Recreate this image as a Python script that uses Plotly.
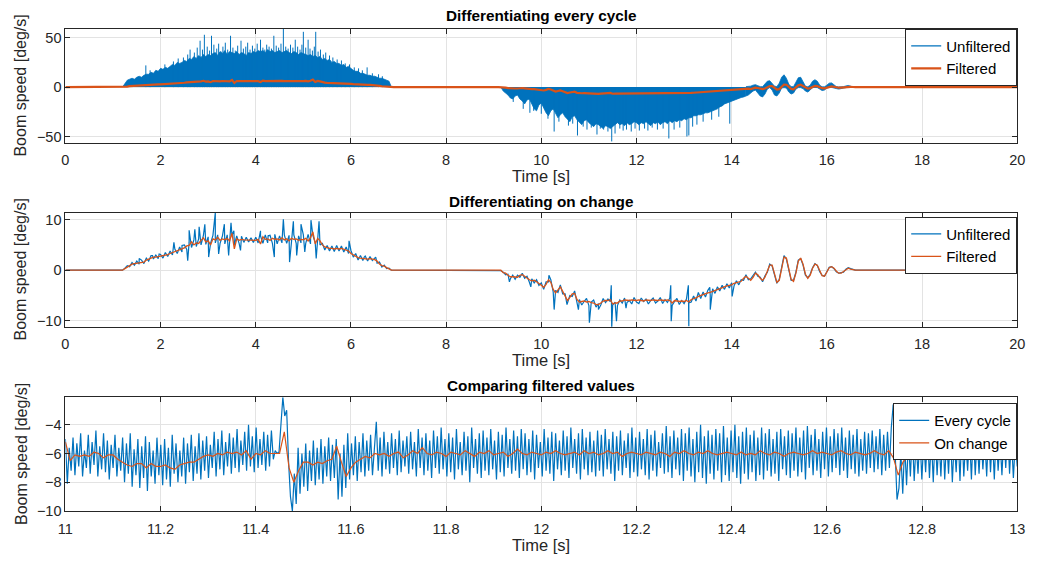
import numpy as np
import plotly.graph_objects as go

BLUE = "#0072BD"
ORANGE = "#D95319"
INK = "#262626"
GRID = "#e3e3e3"
FONT = "Liberation Sans, Arial, Helvetica, sans-serif"

# ---------------------------------------------------------------------------
# Panel 1: speed differentiated every cycle (0-20 s)
# Dense unfiltered signal, stored as its envelope plus isolated spikes.
# ---------------------------------------------------------------------------
# raise phase, 1.20 .. 6.85 s every 0.05 s: upper edge of the noise band
raise_env = [0, 4, 7, 8, 9, 8, 10, 11, 10, 12, 13, 13, 15, 14, 17, 16, 19, 18, 20, 19,
             21, 23, 22, 25, 24, 25, 27, 26, 29, 28, 31, 29, 32, 30, 33, 31, 33, 32, 34, 35,
             32, 36, 34, 37, 33, 36, 35, 34, 36, 33, 35, 34, 32, 35, 34, 36, 35, 37, 36, 37,
             35, 38, 36, 37, 35, 36, 37, 35, 36, 37, 35, 34, 36, 35, 33, 35, 34, 33, 32, 33,
             31, 32, 30, 31, 28, 29, 27, 28, 25, 26, 24, 24, 22, 23, 20, 21, 19, 17, 16, 16,
             14, 14, 13, 12, 12, 11, 11, 10, 9, 9, 8, 7, 6, 0]
raise_spike_t = [1.69, 1.78, 2.09, 2.27, 2.37, 2.48, 2.57, 2.62, 2.71, 2.77, 2.83, 2.88, 2.92,
                 2.98, 3.03, 3.07, 3.12, 3.18, 3.22, 3.27, 3.31, 3.36, 3.41, 3.47, 3.52, 3.57,
                 3.62, 3.69, 3.74, 3.79, 3.83, 3.88, 3.93, 3.98, 4.03, 4.10, 4.15, 4.19, 4.23,
                 4.28, 4.33, 4.38, 4.43, 4.48, 4.53, 4.58, 4.63, 4.68, 4.73, 4.78, 4.83, 4.88,
                 4.93, 4.97, 5.00, 5.05, 5.10, 5.14, 5.19, 5.23, 5.26, 5.31, 5.36, 5.42, 5.47,
                 5.55, 5.62, 5.71, 5.80, 5.88, 5.97, 6.07, 6.16, 6.24, 6.34, 6.45, 6.58, 6.66]
raise_spike_v = [22, 17, 23, 26, 29, 30, 33, 38, 35, 40, 47, 38, 53,
                 41, 37, 52, 43, 39, 44, 36, 41, 45, 38, 52, 40, 37,
                 42, 47, 39, 41, 45, 38, 42, 39, 44, 48, 40, 38, 43,
                 41, 39, 52, 42, 40, 44, 59, 41, 39, 43, 40, 48, 41,
                 38, 43, 56, 40, 48, 39, 37, 41, 56, 36, 38, 33, 35,
                 32, 30, 28, 27, 24, 23, 20, 19, 17, 20, 14, 13, 11]

# lowering phase, 9.15 .. 14.30 s every 0.05 s: lower edge of the noise band
lower_env = [0, -4, -6, -8, -11, -12, -9, -8, -12, -14, -17, -13, -12, -18, -22, -24, -18, -16,
             -22, -26, -29, -24, -22, -27, -31, -28, -26, -30, -33, -35, -30, -29, -33, -36,
             -38, -34, -33, -36, -38, -40, -37, -38, -40, -42, -39, -40, -42, -40, -38, -36,
             -38, -37, -39, -36, -38, -37, -35, -36, -38, -36, -37, -35, -37, -39, -36, -37,
             -35, -38, -36, -35, -37, -34, -36, -34, -35, -33, -34, -32, -33, -31, -31, -29,
             -29, -28, -28, -27, -26, -26, -25, -24, -23, -22, -20, -19, -17, -16, -15, -14,
             -13, -12, -11.5, -10.5, -10, -9]
lower_spike_t = [9.41, 9.62, 9.76, 9.84, 10.00, 10.14, 10.27, 10.37, 10.57, 10.66, 10.76, 10.88,
                 10.96, 11.05, 11.17, 11.24, 11.31, 11.40, 11.48, 11.55, 11.65, 11.72, 11.79,
                 11.89, 11.97, 12.06, 12.17, 12.24, 12.33, 12.44, 12.56, 12.68, 12.79, 12.91,
                 13.06, 13.10, 13.18, 13.27, 13.40, 13.58, 13.73, 13.96]
lower_spike_v = [-15, -22, -26, -24, -27, -32, -45, -35, -39, -37, -49, -40,
                 -43, -41, -48, -42, -43, -45, -55, -47, -42, -44, -43,
                 -45, -42, -44, -42, -44, -41, -43, -42, -52, -43, -41,
                 -50, -49, -40, -38, -35, -33, -30, -37]

# settling oscillation, 14.30 .. 16.55 s every 0.05 s
osc_upper = [0.5, 0.5, 1, 2, 2.5, 1.5, 0.5, 0.5, 3, 6, 6.5, 4, 1, 0.5, 4, 10, 12.5, 9, 3, 0.5,
             0.5, 5, 9.5, 10, 5, 1, 0.3, 2, 6, 7.5, 6, 2, 0.3, 0.3, 2, 4, 4.3, 2.5, 0.5, 0.2,
             0.2, 0.5, 1.2, 1.7, 1.0, 0]
osc_lower = [-9, -8, -6, -4, -3, -6, -9, -10, -7, -2, -0.5, -3, -8, -9, -6, -1, -0.5, -1, -5, -7,
             -6, -2, -0.5, -0.5, -1.5, -4, -5, -3, -0.5, -0.3, -0.5, -2, -3.5, -3, -1, -0.3,
             -0.3, -0.5, -1.5, -2, -1.5, -1, -0.5, 0.5, 0, 0]

# Filtered boom speed over the full run (the two filters coincide at this scale)
filt_raise = [0.0, 0.3, 0.6, 1.0, 1.2, 1.3, 1.4, 1.5, 1.6, 1.6, 2.0, 2.2, 2.5, 2.6, 2.6, 2.7,
              2.7, 2.8, 3.0, 3.1, 3.3, 3.5, 3.6, 3.9, 4.0, 4.2, 4.4, 4.8, 4.9, 5.6, 5.0, 5.4,
              5.3, 5.9, 6.4, 5.6, 5.8, 5.0, 6.2, 6.0, 6.5, 5.9, 6.2, 6.0, 6.3, 5.8, 7.3, 4.2,
              6.2, 5.9, 6.1, 6.0, 6.0, 5.9, 6.0, 5.9, 5.9, 6.1, 5.2, 6.6, 6.1, 6.2, 5.9, 6.3,
              6.1, 6.2, 6.0, 6.4, 6.0, 6.2, 5.8, 6.3, 6.1, 6.2, 5.9, 6.1, 6.0, 6.3, 5.8, 6.4,
              7.6, 5.2, 6.3, 5.8, 5.0, 4.6, 4.4, 4.3, 4.3, 4.2, 4.3, 4.2, 4.3, 4.1, 4.0, 3.8,
              3.3, 3.0, 2.8, 2.5, 2.4, 2.3, 2.3, 2.2, 2.3, 2.2, 2.1, 1.8, 1.2, 0.9, 0.8, 0.5,
              0.2, 0.0, 0.0]
filt_lower = [0.0, 0.0, -0.5, -0.6, -1.0, -1.3, -1.3, -1.4, -1.4, -1.0, -0.9, -1.2, -1.6, -1.9,
              -2.1, -2.0, -2.3, -2.6, -3.0, -3.4, -2.8, -1.9, -2.4, -3.8, -4.5, -3.9, -3.3,
              -4.2, -5.2, -6.0, -5.4, -4.7, -4.6, -5.8, -6.3, -6.2, -6.1, -6.3, -6.2, -6.4,
              -6.5, -6.8, -6.8, -6.5, -6.1, -6.0, -6.0, -5.8, -6.7, -6.5, -6.5, -6.1, -6.1,
              -5.9, -6.0, -6.0, -5.9, -6.0, -6.0, -5.9, -6.0, -6.1, -5.9, -6.0, -6.0, -5.9,
              -6.0, -6.0, -5.9, -6.0, -6.0, -5.9, -6.0, -6.5, -6.0, -6.1, -6.2, -6.1, -6.2,
              -6.0, -6.3, -5.8, -5.7, -5.5, -5.2, -5.0, -4.9, -4.7, -4.5, -4.4, -4.2, -4.0,
              -3.8, -3.6, -3.5, -3.3, -3.1, -3.0, -2.9, -2.6, -2.5, -2.4, -2.2, -1.6, -1.2,
              -1.6, -2.0, -1.4, -0.6, -0.9, -1.6, -2.0, -1.4, -0.2, 1.0, 1.0, -0.6, -2.4,
              -2.0, 0.6, 2.6, 2.4, 0.2, -1.8, -2.2, -0.6, 1.8, 2.4, 1.2, -0.8, -1.6, -1.0,
              0.4, 1.2, 1.0, -0.2, -1.1, -1.2, -0.4, 0.5, 0.7, 0.4, -0.2, -0.6, -0.6, -0.3,
              0.1, 0.4, 0.2, 0.1, 0.0]

# ---------------------------------------------------------------------------
# Panel 2: speed differentiated only when the angle changes
# ---------------------------------------------------------------------------
chg_raise = [0.0, 0.4, 0.9, 0.7, 1.5, 1.0, 1.8, 1.2, 2.0, 1.3, 2.4, 1.8, 2.9, 2.2, 3.0, 2.3,
             3.1, 2.4, 3.5, 2.7, 3.8, 3.0, 4.2, 3.3, 4.6, 3.6, 5.0, 4.1, 5.5, 4.5, 6.0, 4.7,
             6.2, 5.0, 6.9, 5.1, 6.6, 5.3, 6.9, 5.4, 7.0, 5.3, 6.8, 5.2, 7.0, 5.1, 6.9, 5.0,
             6.8, 5.3, 6.7, 5.5, 6.5, 5.6, 6.4, 5.5, 6.5, 5.4, 6.8, 5.3, 7.0, 5.4, 6.9, 5.3,
             7.1, 5.2, 6.8, 5.4, 7.0, 5.3, 6.9, 5.5, 7.0, 5.3, 6.8, 5.4, 7.0, 5.3, 7.1, 5.2,
             6.9, 5.4, 6.8, 5.0, 5.3, 4.0, 4.9, 3.8, 4.8, 3.7, 4.9, 3.8, 4.8, 3.6, 4.6, 3.3,
             3.9, 2.6, 3.3, 2.0, 2.9, 1.9, 2.8, 1.8, 2.7, 1.9, 2.5, 1.4, 1.6, 0.6, 1.0, 0.3,
             0.4, 0.0, 0.0]
chg_raise_spike_t = [1.55, 1.83, 1.97, 2.28, 2.45, 2.57, 2.60, 2.72, 2.81, 2.93, 3.01, 3.15,
                     3.22, 3.34, 3.43, 3.48, 3.54, 3.68, 4.10, 4.26, 4.39, 4.58, 4.71, 4.79,
                     4.86, 4.95, 5.03, 5.16, 5.27, 5.33, 5.96, 6.28, 6.52]
chg_raise_spike_v = [2.3, 2.9, 3.2, 5.5, 4.9, 1.9, 7.9, 8.1, 8.6, 9.1, 2.6, 11.4,
                     3.2, 9.1, 2.9, 9.4, 7.8, 3.9, 7.8, 6.8, 2.6, 10.1, 1.6, 9.7,
                     2.9, 9.1, 3.6, 9.9, 2.3, 9.7, 5.8, 2.6, 2.6]

chg_lower = [0.0, -0.1, -0.4, -0.9, -0.8, -1.7, -1.0, -1.8, -1.0, -1.4, -0.6, -1.6, -1.2, -2.4,
             -1.7, -2.5, -1.9, -3.0, -2.5, -3.8, -2.3, -2.3, -1.9, -4.3, -4.0, -4.4, -2.9,
             -4.7, -4.7, -6.5, -5.0, -5.2, -4.1, -6.4,
             -5.8, -6.9, -6.2, -5.6, -7.0, -6.3, -5.9, -7.3, -6.6, -6.9, -5.6, -6.4, -5.7,
             -6.2, -6.9, -6.3, -7.0, -5.9, -6.5, -5.5, -6.4, -6.0, -6.7, -5.4, -6.3, -6.6,
             -5.5, -6.2, -5.7, -6.7, -6.0, -5.5, -6.5, -6.1, -5.4, -6.6, -5.8, -6.4, -5.5,
             -7.0, -6.2, -5.6, -6.8, -6.0, -6.6, -5.7, -6.5,
             -6.3, -5.1, -6.1, -4.7, -5.6, -4.3, -5.3, -4.0, -5.0, -3.7, -4.6, -3.3, -4.1,
             -3.0, -3.8, -2.7, -3.5, -2.5, -3.1, -2.1, -2.9, -1.9, -2.0, -0.9, -1.9, -1.7,
             -1.1, -0.4, -1.2, -1.4, -2.3, -1.1, -0.4, 1.2, 0.8, -0.9, -2.6, -1.8, 0.8, 2.9,
             2.2, 0.0, -2.0, -2.0, -0.4, 2.0, 2.3, 1.0, -1.0, -1.5, -0.8, 0.5, 1.3, 0.9,
             -0.3, -1.0, -1.2, -0.3, 0.6, 0.7, 0.3, -0.3, -0.6, -0.5, -0.4, 0.2, 0.5, 0.3,
             0.2, 0.0]
chg_lower_spike_t = [9.33, 9.59, 9.78, 10.16, 10.27, 10.54, 10.78, 11.01, 11.20, 11.47, 11.48,
                     11.58, 11.78, 12.72, 12.73, 13.09, 13.10, 13.30, 13.54, 13.55, 13.99, 14.01]
chg_lower_spike_v = [-2.3, -0.6, -3.3, -1.0, -7.8, -6.8, -7.8, -10.4, -7.8, -3.0, -11.4,
                     -10.1, -7.5, -3.0, -10.1, -3.0, -11.1, -4.4, -3.4, -7.8, -2.6, -5.2]

# ---------------------------------------------------------------------------
# Panel 3: filtered speeds, 11-13 s
# ---------------------------------------------------------------------------
every_cycle = [
    -5.0, -8.1, -5.6, -7.2, -4.9, -7.5, -5.3, -6.9, -4.6, -7.6, -5.8, -7.0, -4.7, -7.4, -5.2, -6.8, -4.4, -7.6, -5.5, -7.1,
    -4.6, -7.3, -5.1, -7.8, -5.4, -7.0, -4.7, -7.6, -5.6, -7.2, -4.9, -8.0, -5.3, -7.4, -4.6, -8.3, -5.7, -7.5, -5.0, -8.4,
    -5.5, -7.7, -4.8, -8.6, -5.2, -7.6, -5.8, -8.1, -4.9, -7.5, -5.4, -8.2, -5.0, -7.8, -5.6, -8.3, -4.7, -7.4, -5.3, -8.0,
    -5.8, -7.6, -4.9, -8.1, -5.3, -7.3, -4.7, -7.9, -5.5, -7.4, -4.6, -7.8, -5.1, -7.2, -4.8, -7.7, -5.4, -7.0, -4.5, -7.6,
    -5.0, -7.1, -4.4, -7.5, -5.2, -6.9, -4.6, -7.4, -4.9, -7.0, -4.3, -7.3, -5.1, -6.8, -4.5, -7.2, -4.0, -6.9, -4.8, -7.3,
    -4.2, -7.0, -5.0, -6.8, -4.5, -7.2, -4.7, -6.9, -4.4, -6.4, -5.8, -6.0, -5.9, -3.6, -2.1, -3.4, -3.0, -6.6, -9.0, -10.0,
    -7.4, -9.5, -5.6, -8.8, -6.0, -8.3, -5.3, -8.6, -5.8, -7.9, -5.1, -8.2, -5.6, -7.8, -5.0, -8.1, -5.5, -7.6, -4.9, -7.9,
    -5.4, -7.7, -5.0, -9.2, -6.0, -9.0, -5.4, -8.4, -4.6, -7.8, -5.3, -7.5, -4.8, -7.9, -5.2, -7.3, -4.6, -7.6, -5.1, -7.2,
    -4.7, -7.5, -5.3, -3.8, -7.2, -4.9, -7.6, -4.5, -7.1, -5.2, -7.4, -4.6, -7.0, -5.0, -7.5, -4.4, -7.3, -5.1, -6.9, -4.8,
    -7.4, -4.5, -7.1, -5.2, -7.6, -4.3, -7.0, -4.9, -7.5, -4.6, -7.2, -5.1, -7.7, -4.4, -7.0, -4.8, -7.4, -4.2, -7.1, -5.0,
    -7.6, -4.6, -7.3, -4.9, -7.8, -4.3, -7.1, -5.2, -7.5, -4.5, -7.2, -4.8, -8.0, -4.2, -7.0, -5.0, -7.4, -4.6, -7.7, -4.4,
    -7.2, -4.9, -7.5, -4.3, -7.1, -5.1, -7.8, -4.5, -7.3, -4.7, -7.6, -4.2, -7.0, -5.0, -7.4, -4.4, -7.2, -4.8, -7.7, -4.3,
    -7.1, -4.6, -7.5, -5.0, -7.3, -4.4, -7.8, -4.7, -7.0, -5.2, -7.6, -4.3, -7.2, -4.9, -7.4, -4.5, -7.9, -4.6, -7.1, -5.1,
    -7.5, -4.4, -7.2, -4.8, -7.7, -4.2, -7.0, -5.0, -7.4, -4.6, -7.8, -4.3, -7.1, -4.9, -7.5, -4.5, -7.3, -5.1, -7.6, -4.4,
    -7.2, -4.7, -7.6, -4.3, -7.1, -5.0, -7.4, -4.5, -7.9, -4.8, -7.2, -4.4, -7.5, -5.1, -7.0, -4.6, -7.7, -4.2, -7.3, -4.9,
    -7.6, -4.5, -7.1, -5.0, -7.5, -4.3, -7.8, -4.7, -7.2, -4.4, -7.6, -5.2, -7.0, -4.6, -7.4, -4.1, -7.3, -4.8, -7.7, -4.4,
    -7.1, -4.9, -7.5, -4.3, -7.9, -4.6, -7.2, -4.2, -7.6, -5.0, -8.0, -4.5, -7.3, -4.0, -7.7, -4.8, -8.1, -4.4, -7.4, -4.7,
    -7.8, -4.3, -7.2, -4.6, -8.0, -4.1, -7.5, -4.9, -7.9, -4.4, -7.3, -4.0, -7.7, -4.8, -8.1, -4.5, -7.4, -4.2, -7.8, -4.7,
    -7.3, -4.4, -7.9, -4.9, -7.5, -4.2, -7.8, -4.6, -7.2, -4.3, -7.6, -5.0, -7.4, -4.5, -7.9, -4.3, -7.1, -4.8, -7.5, -4.4,
    -7.7, -4.6, -7.2, -4.2, -7.6, -4.9, -7.3, -4.4, -7.8, -4.1, -7.0, -4.7, -7.5, -4.3, -7.2, -5.0, -7.7, -4.5, -7.1, -4.2,
    -7.6, -4.8, -7.3, -4.3, -7.0, -4.6, -7.5, -4.2, -7.2, -4.9, -7.7, -4.4, -7.1, -4.7, -7.4, -4.3, -7.6, -5.0, -7.2, -4.5,
    -7.4, -4.6, -7.0, -4.4, -7.3, -4.8, -7.1, -4.3, -7.5, -4.7, -7.2, -4.5, -7.0, -4.2, -2.6, -5.8, -9.2, -8.4, -6.0, -8.8,
    -5.4, -8.2, -5.0, -7.6, -4.6, -7.9, -5.2, -7.4, -4.7, -7.8, -5.1, -7.3, -4.5, -7.7, -4.9, -8.0, -4.6, -7.5, -5.0, -7.6,
    -4.4, -7.8, -4.9, -7.4, -4.5, -8.0, -5.1, -7.3, -4.6, -7.9, -4.3, -7.6, -5.0, -7.2, -4.7, -7.8, -4.4, -7.5, -4.9, -7.4,
    -4.6, -7.1, -5.0, -7.6, -4.4, -7.3, -4.8, -7.8, -4.5, -7.2, -5.1, -7.5, -4.7, -7.0, -4.3, -7.4, -4.9, -7.7, -5.2, -6.9,
]
on_change = [
    -5.2, -6.5, -6.1, -6.2, -6.1, -6.2, -5.9, -6.0, -6.3, -6.1, -6.1, -6.4, -6.6, -6.8, -6.9, -6.7, -6.7, -7.0, -6.7, -6.9,
    -6.9, -6.8, -7.0, -7.1, -6.8, -6.7, -6.6, -6.6, -6.4, -6.2, -6.1, -6.2, -6.0, -6.1, -5.9, -6.0, -5.9, -6.1, -5.8, -6.4,
    -6.0, -6.1, -5.8, -6.0, -6.0, -6.0, -4.5, -7.0, -8.0, -7.2, -6.6, -6.6, -6.8, -6.6, -6.7, -6.5, -6.4, -5.5, -6.6, -7.6,
    -7.0, -6.6, -6.4, -6.2, -6.3, -6.0, -6.1, -6.0, -6.2, -6.0, -5.9, -6.3, -6.1, -5.8, -6.0, -5.6, -6.0, -6.1, -5.9, -6.0,
    -6.2, -5.9, -6.0, -6.1, -5.8, -6.0, -6.2, -5.9, -6.0, -5.8, -6.1, -6.0, -5.9, -6.2, -6.0, -5.7, -6.0, -6.1, -5.9, -6.0,
    -6.1, -5.9, -6.0, -5.8, -6.0, -6.1, -6.0, -5.9, -6.1, -5.8, -6.0, -5.9, -6.1, -6.0, -5.8, -6.0, -5.9, -6.2, -6.0, -5.9,
    -6.0, -6.1, -5.9, -6.0, -6.1, -5.9, -6.0, -6.2, -5.9, -6.0, -5.8, -6.0, -6.1, -5.9, -6.0, -5.8, -6.0, -6.1, -6.0, -5.9,
    -6.0, -6.1, -5.9, -6.1, -6.0, -6.1, -5.8, -6.0, -6.1, -5.9, -6.0, -6.2, -6.0, -5.9, -6.0, -6.1, -6.0, -5.8, -6.0, -5.9,
    -6.0, -6.1, -5.9, -5.8, -6.0, -6.1, -5.9, -6.0, -6.1, -6.0, -5.8, -6.0, -6.1, -5.8, -6.3, -7.5, -6.6, -6.2, -6.0, -6.3,
    -6.0, -6.1, -5.9, -6.0, -6.2, -6.1, -6.0, -6.2, -6.3, -6.1, -6.0, -6.2, -6.0, -6.1, -6.4, -6.2, -6.0, -6.1, -6.4, -6.2,
    -6.1,
]

# sample times of each stored run
t_raise_env = np.linspace(1.20, 6.85, len(raise_env))
t_lower_env = np.linspace(9.15, 14.30, len(lower_env))
t_osc_up = np.linspace(14.30, 16.55, len(osc_upper))
t_osc_lo = np.linspace(14.30, 16.55, len(osc_lower))
t_filt_raise = np.linspace(1.20, 6.90, len(filt_raise))
t_filt_lower = np.linspace(9.10, 16.60, len(filt_lower))
t_chg_raise = np.linspace(1.20, 6.90, len(chg_raise))
t_chg_lower = np.linspace(9.10, 16.60, len(chg_lower))
t_every = np.linspace(11.0, 13.0, len(every_cycle))
t_onchg = np.linspace(11.0, 13.0, len(on_change))


def merged(t_a, v_a, t_b, v_b):
    t = np.concatenate([np.asarray(t_a, float), np.asarray(t_b, float)])
    v = np.concatenate([np.asarray(v_a, float), np.asarray(v_b, float)])
    order = np.argsort(t, kind="stable")
    return t[order], v[order]


def spike_segments(ts, vs):
    xs, ys = [], []
    for t, v in zip(ts, vs):
        xs += [t, t, None]
        ys += [0, v, None]
    return xs, ys


filt_t = np.concatenate([[0.0], t_filt_raise, t_filt_lower, [20.0]])
filt_v = np.concatenate([[0.0], filt_raise, filt_lower, [0.0]])

chg_t_r, chg_v_r = merged(t_chg_raise, chg_raise, chg_raise_spike_t, chg_raise_spike_v)
chg_t_l, chg_v_l = merged(t_chg_lower, chg_lower, chg_lower_spike_t, chg_lower_spike_v)
chg_t = np.concatenate([[0.0], chg_t_r, chg_t_l, [20.0]])
chg_v = np.concatenate([[0.0], chg_v_r, chg_v_l, [0.0]])

fig = go.Figure()

# ---- panel 1 traces
band = dict(mode="lines", line=dict(color=BLUE, width=0.8), fillcolor=BLUE,
            showlegend=False, hoverinfo="skip", xaxis="x", yaxis="y")
fig.add_trace(go.Scatter(x=t_raise_env, y=raise_env, fill="tozeroy", **band))
fig.add_trace(go.Scatter(x=t_lower_env, y=lower_env, fill="tozeroy", **band))
fig.add_trace(go.Scatter(x=np.concatenate([t_osc_up, t_osc_lo[::-1]]),
                         y=np.concatenate([osc_upper, osc_lower[::-1]]),
                         fill="toself", **band))
sx, sy = spike_segments(raise_spike_t + lower_spike_t, raise_spike_v + lower_spike_v)
fig.add_trace(go.Scatter(x=sx, y=sy, mode="lines", line=dict(color=BLUE, width=1),
                         showlegend=False, hoverinfo="skip", xaxis="x", yaxis="y"))
fig.add_trace(go.Scatter(x=[None], y=[None], mode="lines", name="Unfiltered",
                         line=dict(color=BLUE, width=1.3), legend="legend",
                         xaxis="x", yaxis="y"))
fig.add_trace(go.Scatter(x=filt_t, y=filt_v, mode="lines", name="Filtered",
                         line=dict(color=ORANGE, width=2.2), legend="legend",
                         xaxis="x", yaxis="y"))

# ---- panel 2 traces
fig.add_trace(go.Scatter(x=chg_t, y=chg_v, mode="lines", name="Unfiltered",
                         line=dict(color=BLUE, width=1.2), legend="legend2",
                         xaxis="x2", yaxis="y2"))
fig.add_trace(go.Scatter(x=filt_t, y=filt_v, mode="lines", name="Filtered",
                         line=dict(color=ORANGE, width=1.3), legend="legend2",
                         xaxis="x2", yaxis="y2"))

# ---- panel 3 traces
fig.add_trace(go.Scatter(x=t_every, y=every_cycle, mode="lines", name="Every cycle",
                         line=dict(color=BLUE, width=1.2), legend="legend3",
                         xaxis="x3", yaxis="y3"))
fig.add_trace(go.Scatter(x=t_onchg, y=on_change, mode="lines", name="On change",
                         line=dict(color=ORANGE, width=1.2), legend="legend3",
                         xaxis="x3", yaxis="y3"))

# ---- layout
W, H = 1038, 569
X0, X1 = 58.3, 1025.0
panels = [(28.0, 144.3), (215.0, 331.0), (402.7, 518.3)]
titles = ["Differentiating every cycle", "Differentiating on change", "Comparing filtered values"]
title_y = [15, 204, 391]
x_ranges = [[0, 20], [0, 20], [11, 13]]
x_ticks = [list(range(0, 21, 2)), list(range(0, 21, 2)),
           [11, 11.2, 11.4, 11.6, 11.8, 12, 12.2, 12.4, 12.6, 12.8, 13]]
x_ticktext = [None, None, ["11", "11.2", "11.4", "11.6", "11.8", "12", "12.2", "12.4",
                            "12.6", "12.8", "13"]]
y_ranges = [[-56.6, 59.3], [-11.2, 11.4], [-10, -2.1]]
y_ticks = [[-50, 0, 50], [-10, 0, 10], [-10, -8, -6, -4]]

axis_common = dict(showgrid=True, gridcolor=GRID, gridwidth=1, zeroline=False,
                   showline=True, linecolor=INK, linewidth=1, mirror="ticks",
                   ticks="inside", ticklen=5, tickcolor=INK, tickwidth=1,
                   tickfont=dict(family=FONT, size=14.5, color=INK))

layout = dict(width=W, height=H, margin=dict(l=0, r=0, t=0, b=0),
              paper_bgcolor="white", plot_bgcolor="white",
              font=dict(family=FONT, color=INK), annotations=[])

for i, (top, bot) in enumerate(panels):
    sfx = "" if i == 0 else str(i + 1)
    xa = dict(axis_common, domain=[X0 / W, X1 / W], range=x_ranges[i],
              tickvals=x_ticks[i], anchor="y" + sfx, ticklabelstandoff=4)
    if x_ticktext[i]:
        xa["ticktext"] = x_ticktext[i]
    ya = dict(axis_common, domain=[1 - bot / H, 1 - top / H], range=y_ranges[i],
              tickvals=y_ticks[i], anchor="x" + sfx)
    layout["xaxis" + sfx] = xa
    layout["yaxis" + sfx] = ya
    layout["annotations"] += [
        dict(text="<b>" + titles[i] + "</b>", x=(X0 + X1) / 2 / W, y=1 - title_y[i] / H,
             xref="paper", yref="paper", xanchor="center", yanchor="middle",
             showarrow=False, font=dict(family=FONT, size=15.3, color="black")),
        dict(text="Time [s]", x=(X0 + X1) / 2 / W, y=1 - (bot + 34) / H,
             xref="paper", yref="paper", xanchor="center", yanchor="middle",
             showarrow=False, font=dict(family=FONT, size=16.5, color=INK)),
        dict(text="Boom speed [deg/s]", x=13 / W, y=1 - (top + bot) / 2 / H,
             xref="paper", yref="paper", xanchor="center", yanchor="middle",
             textangle=-90, showarrow=False, font=dict(family=FONT, size=16, color=INK)),
    ]

legend_style = dict(xanchor="right", yanchor="top", bgcolor="white",
                    bordercolor=INK, borderwidth=1,
                    font=dict(family=FONT, size=15, color="black"), tracegroupgap=0)
layout["legend"] = dict(legend_style, x=1025 / W, y=1 - 28 / H)
layout["legend2"] = dict(legend_style, x=1025 / W, y=1 - 219 / H)
layout["legend3"] = dict(legend_style, x=1025 / W, y=1 - 408.5 / H)

fig.update_layout(**layout)
fig.write_html("out.html")
